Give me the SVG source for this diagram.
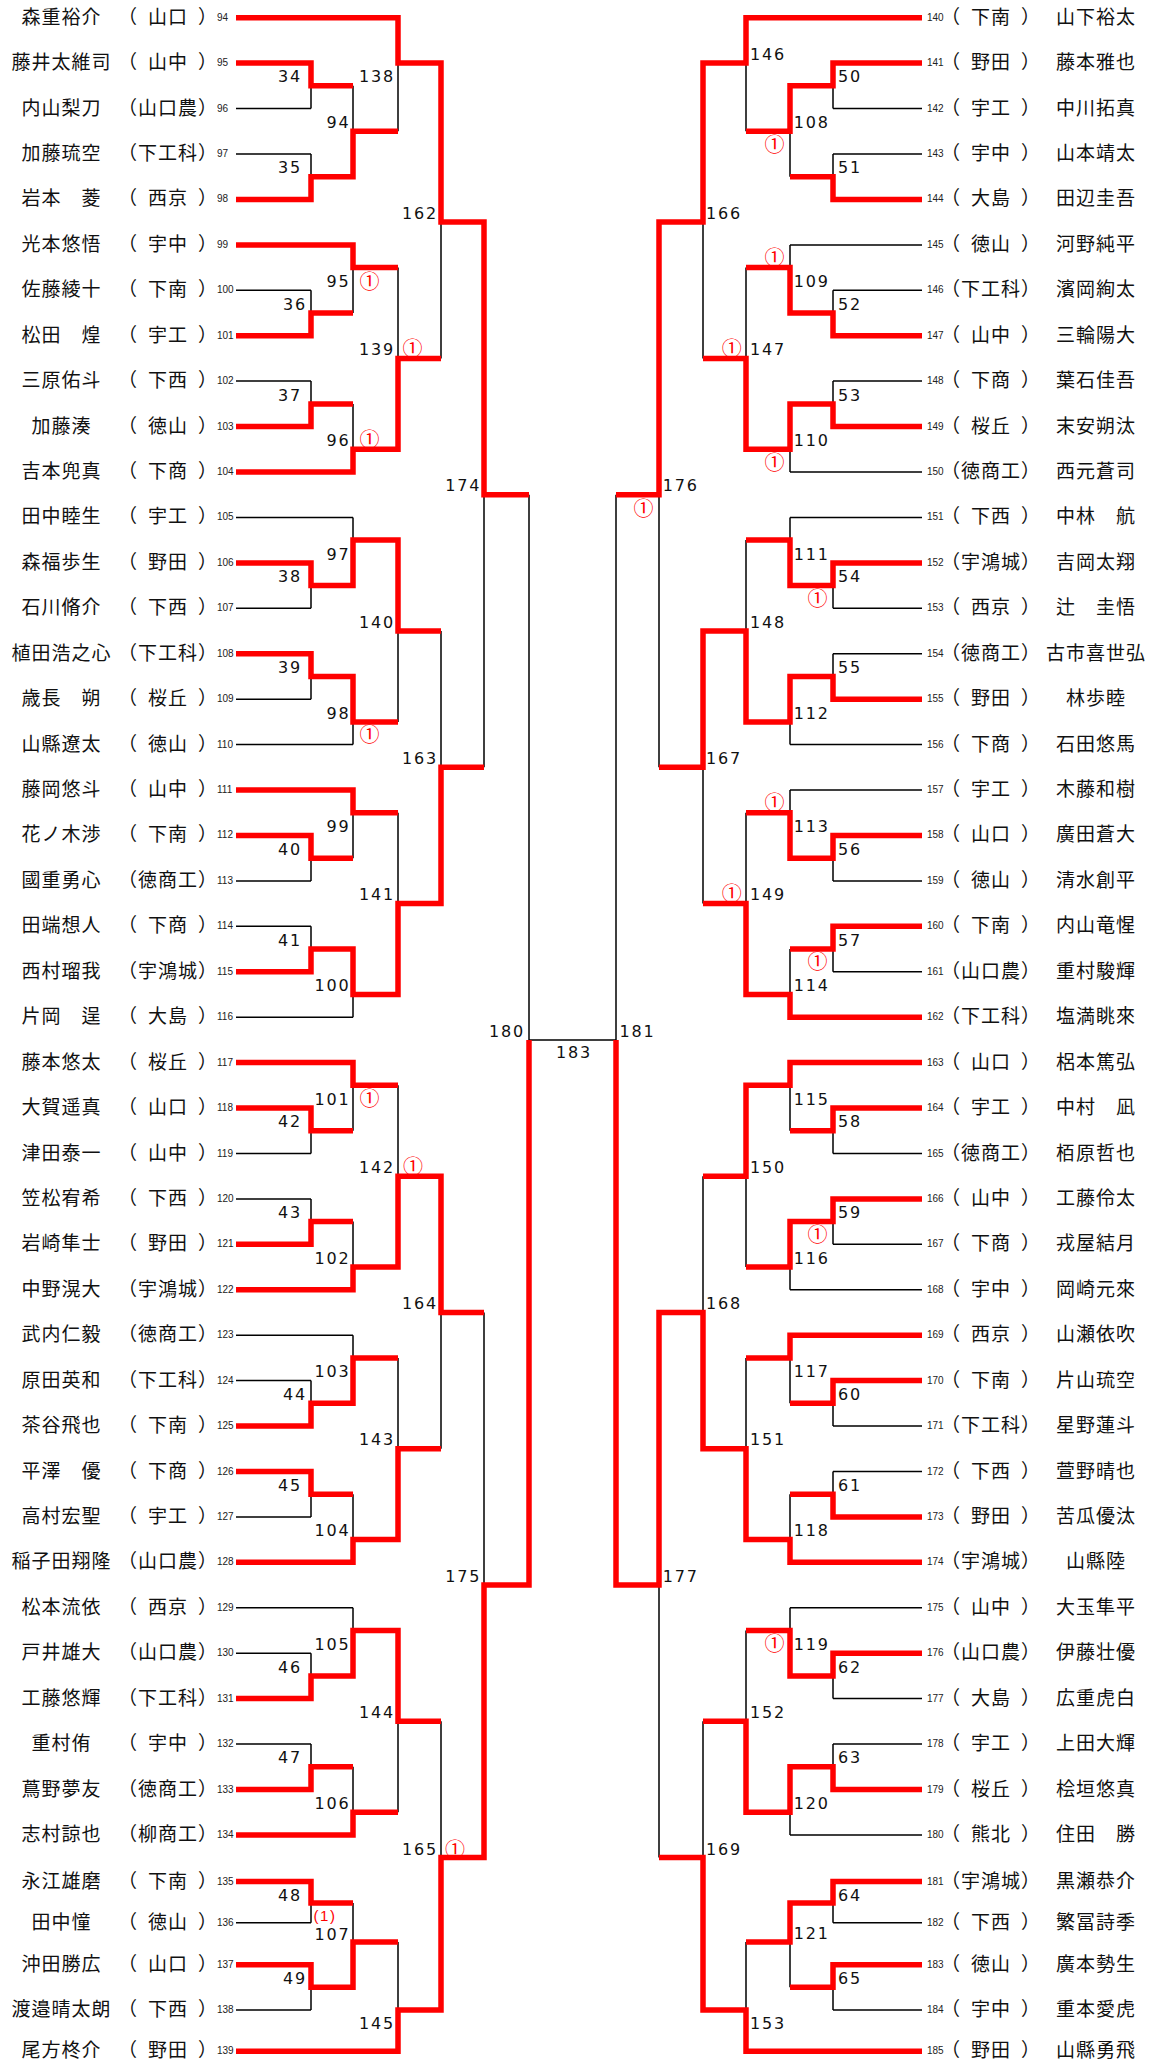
<svg xmlns="http://www.w3.org/2000/svg" width="1153" height="2063" viewBox="0 0 1153 2063">
<style>
.n{font-family:"Noto Sans CJK JP","Noto Sans CJK SC",sans-serif;font-size:19px;letter-spacing:1px;text-anchor:middle;fill:#111}
.q{font-family:"Noto Sans CJK JP","Noto Sans CJK SC",sans-serif;font-size:19px;fill:#111}
.d{font-family:"Liberation Sans",Arial,sans-serif;font-size:10px;fill:#222}
.ml{font-family:"DejaVu Sans",sans-serif;font-size:16px;letter-spacing:1.8px;text-anchor:end;fill:#111}
.mr{font-family:"DejaVu Sans",sans-serif;font-size:16px;letter-spacing:1.8px;fill:#111}
.mc{font-family:"DejaVu Sans",sans-serif;font-size:16px;letter-spacing:1.8px;text-anchor:middle;fill:#111}
.c{font-family:"Noto Sans CJK JP","Noto Sans CJK SC",sans-serif;font-size:20px;text-anchor:middle;fill:#f00}
.c2{font-family:"Liberation Sans",Arial,sans-serif;font-size:15px;letter-spacing:1.5px;text-anchor:middle;fill:#f00}
.b{fill:none;stroke:#000;stroke-width:1.5}
.r{fill:none;stroke:#f00;stroke-width:5.5;stroke-linejoin:miter}
</style>
<rect width="1153" height="2063" fill="#fff"/>
<g id="connectors">
<path class="b" d="M236 17.7H398M236 63.1H311M236 108.6H311M236 154H311M236 199.4H311M236 244.9H353M236 290.3H311M236 335.7H311M236 381.1H311M236 426.6H311M236 472H353M236 517.4H353M236 562.9H311M236 608.3H311M236 653.7H311M236 699.2H311M236 744.6H353M236 790H353M236 835.4H311M236 880.9H311M236 926.3H311M236 971.7H311M236 1017.2H353M236 1062.6H353M236 1108H311M236 1153.5H311M236 1198.9H311M236 1244.3H311M236 1289.7H353M236 1335.2H353M236 1380.6H311M236 1426H311M236 1471.5H311M236 1516.9H311M236 1562.3H353M236 1607.8H353M236 1653.2H311M236 1698.6H311M236 1744H311M236 1789.5H311M236 1834.9H353M236 1881.5H311M236 1922.8H311M236 1964.8H311M236 2010H311M236 2051.2H398"/>
<path class="b" d="M311 63.1V108.6M311 85.8H353M311 154V199.4M311 176.7H353M311 290.3V335.7M311 313H353M311 381.1V426.6M311 403.9H353M311 562.9V608.3M311 585.6H353M311 653.7V699.2M311 676.4H353M311 835.4V880.9M311 858.2H353M311 926.3V971.7M311 949H353M311 1108V1153.5M311 1130.7H353M311 1198.9V1244.3M311 1221.6H353M311 1380.6V1426M311 1403.3H353M311 1471.5V1516.9M311 1494.2H353M311 1653.2V1698.6M311 1675.9H353M311 1744V1789.5M311 1766.8H353M311 1881.5V1922.8M311 1903H353M311 1964.8V2010M311 1987.3H353"/>
<path class="b" d="M353 85.8V176.7M353 131.3H398M353 244.9V313M353 267.6H398M353 403.9V472M353 449.3H398M353 517.4V585.6M353 540.1H398M353 676.4V744.6M353 721.9H398M353 790V858.2M353 812.7H398M353 949V1017.2M353 994.4H398M353 1062.6V1130.7M353 1085.3H398M353 1221.6V1289.7M353 1267H398M353 1335.2V1403.3M353 1357.9H398M353 1494.2V1562.3M353 1539.6H398M353 1607.8V1675.9M353 1630.5H398M353 1766.8V1834.9M353 1812.2H398M353 1903V1987.3M353 1942H398"/>
<path class="b" d="M398 17.7V131.3M398 63.1H441M398 267.6V449.3M398 358.4H441M398 540.1V721.9M398 631H441M398 812.7V994.4M398 903.6H441M398 1085.3V1267M398 1176.2H441M398 1357.9V1539.6M398 1448.8H441M398 1630.5V1812.2M398 1721.3H441M398 1942V2051.2M398 2010H441"/>
<path class="b" d="M441 63.1V358.4M441 222.1H484M441 631V903.6M441 767.3H484M441 1176.2V1448.8M441 1312.5H484M441 1721.3V2010M441 1857.6H484M484 222.1V767.3M484 494.7H529M484 1312.5V1857.6M484 1585H529M529 494.7V1585M529 1039.9H616"/>
<path class="b" d="M922 17.7H746M922 63.1H833M922 108.6H833M922 154H833M922 199.4H833M922 244.9H790M922 290.3H833M922 335.7H833M922 381.1H833M922 426.6H833M922 472H790M922 517.4H790M922 562.9H833M922 608.3H833M922 653.7H833M922 699.2H833M922 744.6H790M922 790H790M922 835.4H833M922 880.9H833M922 926.3H833M922 971.7H833M922 1017.2H790M922 1062.6H790M922 1108H833M922 1153.5H833M922 1198.9H833M922 1244.3H833M922 1289.7H790M922 1335.2H790M922 1380.6H833M922 1426H833M922 1471.5H833M922 1516.9H833M922 1562.3H790M922 1607.8H790M922 1653.2H833M922 1698.6H833M922 1744H833M922 1789.5H833M922 1834.9H790M922 1881.5H833M922 1922.8H833M922 1964.8H833M922 2010H833M922 2051.2H746"/>
<path class="b" d="M833 63.1V108.6M833 85.8H790M833 154V199.4M833 176.7H790M833 290.3V335.7M833 313H790M833 381.1V426.6M833 403.9H790M833 562.9V608.3M833 585.6H790M833 653.7V699.2M833 676.4H790M833 835.4V880.9M833 858.2H790M833 926.3V971.7M833 949H790M833 1108V1153.5M833 1130.7H790M833 1198.9V1244.3M833 1221.6H790M833 1380.6V1426M833 1403.3H790M833 1471.5V1516.9M833 1494.2H790M833 1653.2V1698.6M833 1675.9H790M833 1744V1789.5M833 1766.8H790M833 1881.5V1922.8M833 1903H790M833 1964.8V2010M833 1987.3H790"/>
<path class="b" d="M790 85.8V176.7M790 131.3H746M790 244.9V313M790 267.6H746M790 403.9V472M790 449.3H746M790 517.4V585.6M790 540.1H746M790 676.4V744.6M790 721.9H746M790 790V858.2M790 812.7H746M790 949V1017.2M790 994.4H746M790 1062.6V1130.7M790 1085.3H746M790 1221.6V1289.7M790 1267H746M790 1335.2V1403.3M790 1357.9H746M790 1494.2V1562.3M790 1539.6H746M790 1607.8V1675.9M790 1630.5H746M790 1766.8V1834.9M790 1812.2H746M790 1903V1987.3M790 1942H746"/>
<path class="b" d="M746 17.7V131.3M746 63.1H703M746 267.6V449.3M746 358.4H703M746 540.1V721.9M746 631H703M746 812.7V994.4M746 903.6H703M746 1085.3V1267M746 1176.2H703M746 1357.9V1539.6M746 1448.8H703M746 1630.5V1812.2M746 1721.3H703M746 1942V2051.2M746 2010H703"/>
<path class="b" d="M703 63.1V358.4M703 222.1H659M703 631V903.6M703 767.3H659M703 1176.2V1448.8M703 1312.5H659M703 1721.3V2010M703 1857.6H659M659 222.1V767.3M659 494.7H616M659 1312.5V1857.6M659 1585H616M616 494.7V1585"/>
<path class="r" d="M236 17.7H398V63.1H441V222.1H484V494.7H529"/>
<path class="r" d="M236 63.1H311V85.8H353"/>
<path class="r" d="M236 199.4H311V176.7H353V131.3H398"/>
<path class="r" d="M236 244.9H353V267.6H398"/>
<path class="r" d="M236 335.7H311V313H353"/>
<path class="r" d="M236 426.6H311V403.9H353"/>
<path class="r" d="M236 472H353V449.3H398V358.4H441"/>
<path class="r" d="M236 562.9H311V585.6H353V540.1H398V631H441"/>
<path class="r" d="M236 653.7H311V676.4H353V721.9H398"/>
<path class="r" d="M236 790H353V812.7H398"/>
<path class="r" d="M236 835.4H311V858.2H353"/>
<path class="r" d="M236 971.7H311V949H353V994.4H398V903.6H441V767.3H484"/>
<path class="r" d="M236 1062.6H353V1085.3H398"/>
<path class="r" d="M236 1108H311V1130.7H353"/>
<path class="r" d="M236 1244.3H311V1221.6H353"/>
<path class="r" d="M236 1289.7H353V1267H398V1176.2H441V1312.5H484"/>
<path class="r" d="M236 1426H311V1403.3H353V1357.9H398"/>
<path class="r" d="M236 1471.5H311V1494.2H353"/>
<path class="r" d="M236 1562.3H353V1539.6H398V1448.8H441"/>
<path class="r" d="M236 1698.6H311V1675.9H353V1630.5H398V1721.3H441"/>
<path class="r" d="M236 1789.5H311V1766.8H353"/>
<path class="r" d="M236 1834.9H353V1812.2H398"/>
<path class="r" d="M236 1881.5H311V1903H353"/>
<path class="r" d="M236 1964.8H311V1987.3H353V1942H398"/>
<path class="r" d="M236 2051.2H398V2010H441V1857.6H484V1585H529V1039.9"/>
<path class="r" d="M922 17.7H746V63.1H703V222.1H659V494.7H616"/>
<path class="r" d="M922 63.1H833V85.8H790V131.3H746"/>
<path class="r" d="M922 199.4H833V176.7H790"/>
<path class="r" d="M922 335.7H833V313H790V267.6H746"/>
<path class="r" d="M922 426.6H833V403.9H790V449.3H746V358.4H703"/>
<path class="r" d="M922 562.9H833V585.6H790V540.1H746"/>
<path class="r" d="M922 699.2H833V676.4H790V721.9H746V631H703V767.3H659"/>
<path class="r" d="M922 835.4H833V858.2H790V812.7H746"/>
<path class="r" d="M922 926.3H833V949H790"/>
<path class="r" d="M922 1017.2H790V994.4H746V903.6H703"/>
<path class="r" d="M922 1062.6H790V1085.3H746V1176.2H703"/>
<path class="r" d="M922 1108H833V1130.7H790"/>
<path class="r" d="M922 1198.9H833V1221.6H790V1267H746"/>
<path class="r" d="M922 1335.2H790V1357.9H746"/>
<path class="r" d="M922 1380.6H833V1403.3H790"/>
<path class="r" d="M922 1516.9H833V1494.2H790"/>
<path class="r" d="M922 1562.3H790V1539.6H746V1448.8H703V1312.5H659V1585H616V1039.9"/>
<path class="r" d="M922 1653.2H833V1675.9H790V1630.5H746"/>
<path class="r" d="M922 1789.5H833V1766.8H790V1812.2H746V1721.3H703"/>
<path class="r" d="M922 1881.5H833V1903H790V1942H746"/>
<path class="r" d="M922 1964.8H833V1987.3H790"/>
<path class="r" d="M922 2051.2H746V2010H703V1857.6H659"/>
</g>
<g id="players-left">
<g id="p94" transform="translate(0 17.7)"><text class="n" x="61.5" y="6">森重裕介</text><text class="q" x="118" y="6">（</text><text class="n" x="168" y="6">山口</text><text class="q" x="198" y="6">）</text><text class="d" x="217" y="3">94</text></g>
<g id="p95" transform="translate(0 63.1)"><text class="n" x="61.5" y="6">藤井太維司</text><text class="q" x="118" y="6">（</text><text class="n" x="168" y="6">山中</text><text class="q" x="198" y="6">）</text><text class="d" x="217" y="3">95</text></g>
<g id="p96" transform="translate(0 108.6)"><text class="n" x="61.5" y="6">内山梨刀</text><text class="q" x="118" y="6">（</text><text class="n" x="168" y="6">山口農</text><text class="q" x="198" y="6">）</text><text class="d" x="217" y="3">96</text></g>
<g id="p97" transform="translate(0 154)"><text class="n" x="61.5" y="6">加藤琉空</text><text class="q" x="118" y="6">（</text><text class="n" x="168" y="6">下工科</text><text class="q" x="198" y="6">）</text><text class="d" x="217" y="3">97</text></g>
<g id="p98" transform="translate(0 199.4)"><text class="n" x="61.5" y="6">岩本　菱</text><text class="q" x="118" y="6">（</text><text class="n" x="168" y="6">西京</text><text class="q" x="198" y="6">）</text><text class="d" x="217" y="3">98</text></g>
<g id="p99" transform="translate(0 244.9)"><text class="n" x="61.5" y="6">光本悠悟</text><text class="q" x="118" y="6">（</text><text class="n" x="168" y="6">宇中</text><text class="q" x="198" y="6">）</text><text class="d" x="217" y="3">99</text></g>
<g id="p100" transform="translate(0 290.3)"><text class="n" x="61.5" y="6">佐藤綾十</text><text class="q" x="118" y="6">（</text><text class="n" x="168" y="6">下南</text><text class="q" x="198" y="6">）</text><text class="d" x="217" y="3">100</text></g>
<g id="p101" transform="translate(0 335.7)"><text class="n" x="61.5" y="6">松田　煌</text><text class="q" x="118" y="6">（</text><text class="n" x="168" y="6">宇工</text><text class="q" x="198" y="6">）</text><text class="d" x="217" y="3">101</text></g>
<g id="p102" transform="translate(0 381.1)"><text class="n" x="61.5" y="6">三原佑斗</text><text class="q" x="118" y="6">（</text><text class="n" x="168" y="6">下西</text><text class="q" x="198" y="6">）</text><text class="d" x="217" y="3">102</text></g>
<g id="p103" transform="translate(0 426.6)"><text class="n" x="61.5" y="6">加藤湊</text><text class="q" x="118" y="6">（</text><text class="n" x="168" y="6">徳山</text><text class="q" x="198" y="6">）</text><text class="d" x="217" y="3">103</text></g>
<g id="p104" transform="translate(0 472)"><text class="n" x="61.5" y="6">吉本兜真</text><text class="q" x="118" y="6">（</text><text class="n" x="168" y="6">下商</text><text class="q" x="198" y="6">）</text><text class="d" x="217" y="3">104</text></g>
<g id="p105" transform="translate(0 517.4)"><text class="n" x="61.5" y="6">田中睦生</text><text class="q" x="118" y="6">（</text><text class="n" x="168" y="6">宇工</text><text class="q" x="198" y="6">）</text><text class="d" x="217" y="3">105</text></g>
<g id="p106" transform="translate(0 562.9)"><text class="n" x="61.5" y="6">森福歩生</text><text class="q" x="118" y="6">（</text><text class="n" x="168" y="6">野田</text><text class="q" x="198" y="6">）</text><text class="d" x="217" y="3">106</text></g>
<g id="p107" transform="translate(0 608.3)"><text class="n" x="61.5" y="6">石川脩介</text><text class="q" x="118" y="6">（</text><text class="n" x="168" y="6">下西</text><text class="q" x="198" y="6">）</text><text class="d" x="217" y="3">107</text></g>
<g id="p108" transform="translate(0 653.7)"><text class="n" x="61.5" y="6">植田浩之心</text><text class="q" x="118" y="6">（</text><text class="n" x="168" y="6">下工科</text><text class="q" x="198" y="6">）</text><text class="d" x="217" y="3">108</text></g>
<g id="p109" transform="translate(0 699.2)"><text class="n" x="61.5" y="6">歳長　朔</text><text class="q" x="118" y="6">（</text><text class="n" x="168" y="6">桜丘</text><text class="q" x="198" y="6">）</text><text class="d" x="217" y="3">109</text></g>
<g id="p110" transform="translate(0 744.6)"><text class="n" x="61.5" y="6">山縣遼太</text><text class="q" x="118" y="6">（</text><text class="n" x="168" y="6">徳山</text><text class="q" x="198" y="6">）</text><text class="d" x="217" y="3">110</text></g>
<g id="p111" transform="translate(0 790)"><text class="n" x="61.5" y="6">藤岡悠斗</text><text class="q" x="118" y="6">（</text><text class="n" x="168" y="6">山中</text><text class="q" x="198" y="6">）</text><text class="d" x="217" y="3">111</text></g>
<g id="p112" transform="translate(0 835.4)"><text class="n" x="61.5" y="6">花ノ木渉</text><text class="q" x="118" y="6">（</text><text class="n" x="168" y="6">下南</text><text class="q" x="198" y="6">）</text><text class="d" x="217" y="3">112</text></g>
<g id="p113" transform="translate(0 880.9)"><text class="n" x="61.5" y="6">國重勇心</text><text class="q" x="118" y="6">（</text><text class="n" x="168" y="6">徳商工</text><text class="q" x="198" y="6">）</text><text class="d" x="217" y="3">113</text></g>
<g id="p114" transform="translate(0 926.3)"><text class="n" x="61.5" y="6">田端想人</text><text class="q" x="118" y="6">（</text><text class="n" x="168" y="6">下商</text><text class="q" x="198" y="6">）</text><text class="d" x="217" y="3">114</text></g>
<g id="p115" transform="translate(0 971.7)"><text class="n" x="61.5" y="6">西村瑠我</text><text class="q" x="118" y="6">（</text><text class="n" x="168" y="6">宇鴻城</text><text class="q" x="198" y="6">）</text><text class="d" x="217" y="3">115</text></g>
<g id="p116" transform="translate(0 1017.2)"><text class="n" x="61.5" y="6">片岡　逞</text><text class="q" x="118" y="6">（</text><text class="n" x="168" y="6">大島</text><text class="q" x="198" y="6">）</text><text class="d" x="217" y="3">116</text></g>
<g id="p117" transform="translate(0 1062.6)"><text class="n" x="61.5" y="6">藤本悠太</text><text class="q" x="118" y="6">（</text><text class="n" x="168" y="6">桜丘</text><text class="q" x="198" y="6">）</text><text class="d" x="217" y="3">117</text></g>
<g id="p118" transform="translate(0 1108)"><text class="n" x="61.5" y="6">大賀遥真</text><text class="q" x="118" y="6">（</text><text class="n" x="168" y="6">山口</text><text class="q" x="198" y="6">）</text><text class="d" x="217" y="3">118</text></g>
<g id="p119" transform="translate(0 1153.5)"><text class="n" x="61.5" y="6">津田泰一</text><text class="q" x="118" y="6">（</text><text class="n" x="168" y="6">山中</text><text class="q" x="198" y="6">）</text><text class="d" x="217" y="3">119</text></g>
<g id="p120" transform="translate(0 1198.9)"><text class="n" x="61.5" y="6">笠松宥希</text><text class="q" x="118" y="6">（</text><text class="n" x="168" y="6">下西</text><text class="q" x="198" y="6">）</text><text class="d" x="217" y="3">120</text></g>
<g id="p121" transform="translate(0 1244.3)"><text class="n" x="61.5" y="6">岩崎隼士</text><text class="q" x="118" y="6">（</text><text class="n" x="168" y="6">野田</text><text class="q" x="198" y="6">）</text><text class="d" x="217" y="3">121</text></g>
<g id="p122" transform="translate(0 1289.7)"><text class="n" x="61.5" y="6">中野滉大</text><text class="q" x="118" y="6">（</text><text class="n" x="168" y="6">宇鴻城</text><text class="q" x="198" y="6">）</text><text class="d" x="217" y="3">122</text></g>
<g id="p123" transform="translate(0 1335.2)"><text class="n" x="61.5" y="6">武内仁毅</text><text class="q" x="118" y="6">（</text><text class="n" x="168" y="6">徳商工</text><text class="q" x="198" y="6">）</text><text class="d" x="217" y="3">123</text></g>
<g id="p124" transform="translate(0 1380.6)"><text class="n" x="61.5" y="6">原田英和</text><text class="q" x="118" y="6">（</text><text class="n" x="168" y="6">下工科</text><text class="q" x="198" y="6">）</text><text class="d" x="217" y="3">124</text></g>
<g id="p125" transform="translate(0 1426)"><text class="n" x="61.5" y="6">茶谷飛也</text><text class="q" x="118" y="6">（</text><text class="n" x="168" y="6">下南</text><text class="q" x="198" y="6">）</text><text class="d" x="217" y="3">125</text></g>
<g id="p126" transform="translate(0 1471.5)"><text class="n" x="61.5" y="6">平澤　優</text><text class="q" x="118" y="6">（</text><text class="n" x="168" y="6">下商</text><text class="q" x="198" y="6">）</text><text class="d" x="217" y="3">126</text></g>
<g id="p127" transform="translate(0 1516.9)"><text class="n" x="61.5" y="6">高村宏聖</text><text class="q" x="118" y="6">（</text><text class="n" x="168" y="6">宇工</text><text class="q" x="198" y="6">）</text><text class="d" x="217" y="3">127</text></g>
<g id="p128" transform="translate(0 1562.3)"><text class="n" x="61.5" y="6">稲子田翔隆</text><text class="q" x="118" y="6">（</text><text class="n" x="168" y="6">山口農</text><text class="q" x="198" y="6">）</text><text class="d" x="217" y="3">128</text></g>
<g id="p129" transform="translate(0 1607.8)"><text class="n" x="61.5" y="6">松本流依</text><text class="q" x="118" y="6">（</text><text class="n" x="168" y="6">西京</text><text class="q" x="198" y="6">）</text><text class="d" x="217" y="3">129</text></g>
<g id="p130" transform="translate(0 1653.2)"><text class="n" x="61.5" y="6">戸井雄大</text><text class="q" x="118" y="6">（</text><text class="n" x="168" y="6">山口農</text><text class="q" x="198" y="6">）</text><text class="d" x="217" y="3">130</text></g>
<g id="p131" transform="translate(0 1698.6)"><text class="n" x="61.5" y="6">工藤悠輝</text><text class="q" x="118" y="6">（</text><text class="n" x="168" y="6">下工科</text><text class="q" x="198" y="6">）</text><text class="d" x="217" y="3">131</text></g>
<g id="p132" transform="translate(0 1744)"><text class="n" x="61.5" y="6">重村侑</text><text class="q" x="118" y="6">（</text><text class="n" x="168" y="6">宇中</text><text class="q" x="198" y="6">）</text><text class="d" x="217" y="3">132</text></g>
<g id="p133" transform="translate(0 1789.5)"><text class="n" x="61.5" y="6">蔦野夢友</text><text class="q" x="118" y="6">（</text><text class="n" x="168" y="6">徳商工</text><text class="q" x="198" y="6">）</text><text class="d" x="217" y="3">133</text></g>
<g id="p134" transform="translate(0 1834.9)"><text class="n" x="61.5" y="6">志村諒也</text><text class="q" x="118" y="6">（</text><text class="n" x="168" y="6">柳商工</text><text class="q" x="198" y="6">）</text><text class="d" x="217" y="3">134</text></g>
<g id="p135" transform="translate(0 1881.5)"><text class="n" x="61.5" y="6">永江雄磨</text><text class="q" x="118" y="6">（</text><text class="n" x="168" y="6">下南</text><text class="q" x="198" y="6">）</text><text class="d" x="217" y="3">135</text></g>
<g id="p136" transform="translate(0 1922.8)"><text class="n" x="61.5" y="6">田中憧</text><text class="q" x="118" y="6">（</text><text class="n" x="168" y="6">徳山</text><text class="q" x="198" y="6">）</text><text class="d" x="217" y="3">136</text></g>
<g id="p137" transform="translate(0 1964.8)"><text class="n" x="61.5" y="6">沖田勝広</text><text class="q" x="118" y="6">（</text><text class="n" x="168" y="6">山口</text><text class="q" x="198" y="6">）</text><text class="d" x="217" y="3">137</text></g>
<g id="p138" transform="translate(0 2010)"><text class="n" x="61.5" y="6">渡邉晴太朗</text><text class="q" x="118" y="6">（</text><text class="n" x="168" y="6">下西</text><text class="q" x="198" y="6">）</text><text class="d" x="217" y="3">138</text></g>
<g id="p139" transform="translate(0 2051.2)"><text class="n" x="61.5" y="6">尾方柊介</text><text class="q" x="118" y="6">（</text><text class="n" x="168" y="6">野田</text><text class="q" x="198" y="6">）</text><text class="d" x="217" y="3">139</text></g>
</g>
<g id="players-right">
<g id="p140" transform="translate(0 17.7)"><text class="d" x="927" y="3">140</text><text class="q" x="941" y="6">（</text><text class="n" x="991" y="6">下南</text><text class="q" x="1021" y="6">）</text><text class="n" x="1096" y="6">山下裕太</text></g>
<g id="p141" transform="translate(0 63.1)"><text class="d" x="927" y="3">141</text><text class="q" x="941" y="6">（</text><text class="n" x="991" y="6">野田</text><text class="q" x="1021" y="6">）</text><text class="n" x="1096" y="6">藤本雅也</text></g>
<g id="p142" transform="translate(0 108.6)"><text class="d" x="927" y="3">142</text><text class="q" x="941" y="6">（</text><text class="n" x="991" y="6">宇工</text><text class="q" x="1021" y="6">）</text><text class="n" x="1096" y="6">中川拓真</text></g>
<g id="p143" transform="translate(0 154)"><text class="d" x="927" y="3">143</text><text class="q" x="941" y="6">（</text><text class="n" x="991" y="6">宇中</text><text class="q" x="1021" y="6">）</text><text class="n" x="1096" y="6">山本靖太</text></g>
<g id="p144" transform="translate(0 199.4)"><text class="d" x="927" y="3">144</text><text class="q" x="941" y="6">（</text><text class="n" x="991" y="6">大島</text><text class="q" x="1021" y="6">）</text><text class="n" x="1096" y="6">田辺圭吾</text></g>
<g id="p145" transform="translate(0 244.9)"><text class="d" x="927" y="3">145</text><text class="q" x="941" y="6">（</text><text class="n" x="991" y="6">徳山</text><text class="q" x="1021" y="6">）</text><text class="n" x="1096" y="6">河野純平</text></g>
<g id="p146" transform="translate(0 290.3)"><text class="d" x="927" y="3">146</text><text class="q" x="941" y="6">（</text><text class="n" x="991" y="6">下工科</text><text class="q" x="1021" y="6">）</text><text class="n" x="1096" y="6">濱岡絢太</text></g>
<g id="p147" transform="translate(0 335.7)"><text class="d" x="927" y="3">147</text><text class="q" x="941" y="6">（</text><text class="n" x="991" y="6">山中</text><text class="q" x="1021" y="6">）</text><text class="n" x="1096" y="6">三輪陽大</text></g>
<g id="p148" transform="translate(0 381.1)"><text class="d" x="927" y="3">148</text><text class="q" x="941" y="6">（</text><text class="n" x="991" y="6">下商</text><text class="q" x="1021" y="6">）</text><text class="n" x="1096" y="6">葉石佳吾</text></g>
<g id="p149" transform="translate(0 426.6)"><text class="d" x="927" y="3">149</text><text class="q" x="941" y="6">（</text><text class="n" x="991" y="6">桜丘</text><text class="q" x="1021" y="6">）</text><text class="n" x="1096" y="6">末安朔汰</text></g>
<g id="p150" transform="translate(0 472)"><text class="d" x="927" y="3">150</text><text class="q" x="941" y="6">（</text><text class="n" x="991" y="6">徳商工</text><text class="q" x="1021" y="6">）</text><text class="n" x="1096" y="6">西元蒼司</text></g>
<g id="p151" transform="translate(0 517.4)"><text class="d" x="927" y="3">151</text><text class="q" x="941" y="6">（</text><text class="n" x="991" y="6">下西</text><text class="q" x="1021" y="6">）</text><text class="n" x="1096" y="6">中林　航</text></g>
<g id="p152" transform="translate(0 562.9)"><text class="d" x="927" y="3">152</text><text class="q" x="941" y="6">（</text><text class="n" x="991" y="6">宇鴻城</text><text class="q" x="1021" y="6">）</text><text class="n" x="1096" y="6">吉岡太翔</text></g>
<g id="p153" transform="translate(0 608.3)"><text class="d" x="927" y="3">153</text><text class="q" x="941" y="6">（</text><text class="n" x="991" y="6">西京</text><text class="q" x="1021" y="6">）</text><text class="n" x="1096" y="6">辻　圭悟</text></g>
<g id="p154" transform="translate(0 653.7)"><text class="d" x="927" y="3">154</text><text class="q" x="941" y="6">（</text><text class="n" x="991" y="6">徳商工</text><text class="q" x="1021" y="6">）</text><text class="n" x="1096" y="6">古市喜世弘</text></g>
<g id="p155" transform="translate(0 699.2)"><text class="d" x="927" y="3">155</text><text class="q" x="941" y="6">（</text><text class="n" x="991" y="6">野田</text><text class="q" x="1021" y="6">）</text><text class="n" x="1096" y="6">林歩睦</text></g>
<g id="p156" transform="translate(0 744.6)"><text class="d" x="927" y="3">156</text><text class="q" x="941" y="6">（</text><text class="n" x="991" y="6">下商</text><text class="q" x="1021" y="6">）</text><text class="n" x="1096" y="6">石田悠馬</text></g>
<g id="p157" transform="translate(0 790)"><text class="d" x="927" y="3">157</text><text class="q" x="941" y="6">（</text><text class="n" x="991" y="6">宇工</text><text class="q" x="1021" y="6">）</text><text class="n" x="1096" y="6">木藤和樹</text></g>
<g id="p158" transform="translate(0 835.4)"><text class="d" x="927" y="3">158</text><text class="q" x="941" y="6">（</text><text class="n" x="991" y="6">山口</text><text class="q" x="1021" y="6">）</text><text class="n" x="1096" y="6">廣田蒼大</text></g>
<g id="p159" transform="translate(0 880.9)"><text class="d" x="927" y="3">159</text><text class="q" x="941" y="6">（</text><text class="n" x="991" y="6">徳山</text><text class="q" x="1021" y="6">）</text><text class="n" x="1096" y="6">清水創平</text></g>
<g id="p160" transform="translate(0 926.3)"><text class="d" x="927" y="3">160</text><text class="q" x="941" y="6">（</text><text class="n" x="991" y="6">下南</text><text class="q" x="1021" y="6">）</text><text class="n" x="1096" y="6">内山竜惺</text></g>
<g id="p161" transform="translate(0 971.7)"><text class="d" x="927" y="3">161</text><text class="q" x="941" y="6">（</text><text class="n" x="991" y="6">山口農</text><text class="q" x="1021" y="6">）</text><text class="n" x="1096" y="6">重村駿輝</text></g>
<g id="p162" transform="translate(0 1017.2)"><text class="d" x="927" y="3">162</text><text class="q" x="941" y="6">（</text><text class="n" x="991" y="6">下工科</text><text class="q" x="1021" y="6">）</text><text class="n" x="1096" y="6">塩満眺來</text></g>
<g id="p163" transform="translate(0 1062.6)"><text class="d" x="927" y="3">163</text><text class="q" x="941" y="6">（</text><text class="n" x="991" y="6">山口</text><text class="q" x="1021" y="6">）</text><text class="n" x="1096" y="6">梠本篤弘</text></g>
<g id="p164" transform="translate(0 1108)"><text class="d" x="927" y="3">164</text><text class="q" x="941" y="6">（</text><text class="n" x="991" y="6">宇工</text><text class="q" x="1021" y="6">）</text><text class="n" x="1096" y="6">中村　凪</text></g>
<g id="p165" transform="translate(0 1153.5)"><text class="d" x="927" y="3">165</text><text class="q" x="941" y="6">（</text><text class="n" x="991" y="6">徳商工</text><text class="q" x="1021" y="6">）</text><text class="n" x="1096" y="6">栢原哲也</text></g>
<g id="p166" transform="translate(0 1198.9)"><text class="d" x="927" y="3">166</text><text class="q" x="941" y="6">（</text><text class="n" x="991" y="6">山中</text><text class="q" x="1021" y="6">）</text><text class="n" x="1096" y="6">工藤伶太</text></g>
<g id="p167" transform="translate(0 1244.3)"><text class="d" x="927" y="3">167</text><text class="q" x="941" y="6">（</text><text class="n" x="991" y="6">下商</text><text class="q" x="1021" y="6">）</text><text class="n" x="1096" y="6">戎屋結月</text></g>
<g id="p168" transform="translate(0 1289.7)"><text class="d" x="927" y="3">168</text><text class="q" x="941" y="6">（</text><text class="n" x="991" y="6">宇中</text><text class="q" x="1021" y="6">）</text><text class="n" x="1096" y="6">岡崎元來</text></g>
<g id="p169" transform="translate(0 1335.2)"><text class="d" x="927" y="3">169</text><text class="q" x="941" y="6">（</text><text class="n" x="991" y="6">西京</text><text class="q" x="1021" y="6">）</text><text class="n" x="1096" y="6">山瀬依吹</text></g>
<g id="p170" transform="translate(0 1380.6)"><text class="d" x="927" y="3">170</text><text class="q" x="941" y="6">（</text><text class="n" x="991" y="6">下南</text><text class="q" x="1021" y="6">）</text><text class="n" x="1096" y="6">片山琉空</text></g>
<g id="p171" transform="translate(0 1426)"><text class="d" x="927" y="3">171</text><text class="q" x="941" y="6">（</text><text class="n" x="991" y="6">下工科</text><text class="q" x="1021" y="6">）</text><text class="n" x="1096" y="6">星野蓮斗</text></g>
<g id="p172" transform="translate(0 1471.5)"><text class="d" x="927" y="3">172</text><text class="q" x="941" y="6">（</text><text class="n" x="991" y="6">下西</text><text class="q" x="1021" y="6">）</text><text class="n" x="1096" y="6">萱野晴也</text></g>
<g id="p173" transform="translate(0 1516.9)"><text class="d" x="927" y="3">173</text><text class="q" x="941" y="6">（</text><text class="n" x="991" y="6">野田</text><text class="q" x="1021" y="6">）</text><text class="n" x="1096" y="6">苦瓜優汰</text></g>
<g id="p174" transform="translate(0 1562.3)"><text class="d" x="927" y="3">174</text><text class="q" x="941" y="6">（</text><text class="n" x="991" y="6">宇鴻城</text><text class="q" x="1021" y="6">）</text><text class="n" x="1096" y="6">山縣陸</text></g>
<g id="p175" transform="translate(0 1607.8)"><text class="d" x="927" y="3">175</text><text class="q" x="941" y="6">（</text><text class="n" x="991" y="6">山中</text><text class="q" x="1021" y="6">）</text><text class="n" x="1096" y="6">大玉隼平</text></g>
<g id="p176" transform="translate(0 1653.2)"><text class="d" x="927" y="3">176</text><text class="q" x="941" y="6">（</text><text class="n" x="991" y="6">山口農</text><text class="q" x="1021" y="6">）</text><text class="n" x="1096" y="6">伊藤壮優</text></g>
<g id="p177" transform="translate(0 1698.6)"><text class="d" x="927" y="3">177</text><text class="q" x="941" y="6">（</text><text class="n" x="991" y="6">大島</text><text class="q" x="1021" y="6">）</text><text class="n" x="1096" y="6">広重虎白</text></g>
<g id="p178" transform="translate(0 1744)"><text class="d" x="927" y="3">178</text><text class="q" x="941" y="6">（</text><text class="n" x="991" y="6">宇工</text><text class="q" x="1021" y="6">）</text><text class="n" x="1096" y="6">上田大輝</text></g>
<g id="p179" transform="translate(0 1789.5)"><text class="d" x="927" y="3">179</text><text class="q" x="941" y="6">（</text><text class="n" x="991" y="6">桜丘</text><text class="q" x="1021" y="6">）</text><text class="n" x="1096" y="6">桧垣悠真</text></g>
<g id="p180" transform="translate(0 1834.9)"><text class="d" x="927" y="3">180</text><text class="q" x="941" y="6">（</text><text class="n" x="991" y="6">熊北</text><text class="q" x="1021" y="6">）</text><text class="n" x="1096" y="6">住田　勝</text></g>
<g id="p181" transform="translate(0 1881.5)"><text class="d" x="927" y="3">181</text><text class="q" x="941" y="6">（</text><text class="n" x="991" y="6">宇鴻城</text><text class="q" x="1021" y="6">）</text><text class="n" x="1096" y="6">黒瀬恭介</text></g>
<g id="p182" transform="translate(0 1922.8)"><text class="d" x="927" y="3">182</text><text class="q" x="941" y="6">（</text><text class="n" x="991" y="6">下西</text><text class="q" x="1021" y="6">）</text><text class="n" x="1096" y="6">繁冨詩季</text></g>
<g id="p183" transform="translate(0 1964.8)"><text class="d" x="927" y="3">183</text><text class="q" x="941" y="6">（</text><text class="n" x="991" y="6">徳山</text><text class="q" x="1021" y="6">）</text><text class="n" x="1096" y="6">廣本勢生</text></g>
<g id="p184" transform="translate(0 2010)"><text class="d" x="927" y="3">184</text><text class="q" x="941" y="6">（</text><text class="n" x="991" y="6">宇中</text><text class="q" x="1021" y="6">）</text><text class="n" x="1096" y="6">重本愛虎</text></g>
<g id="p185" transform="translate(0 2051.2)"><text class="d" x="927" y="3">185</text><text class="q" x="941" y="6">（</text><text class="n" x="991" y="6">野田</text><text class="q" x="1021" y="6">）</text><text class="n" x="1096" y="6">山縣勇飛</text></g>
</g>
<g id="matches-left">
<g id="m34"><text class="ml" x="302" y="82.4">34</text></g>
<g id="m35"><text class="ml" x="302" y="173.3">35</text></g>
<g id="m36"><text class="ml" x="307" y="309.6">36</text></g>
<g id="m37"><text class="ml" x="302" y="400.5">37</text></g>
<g id="m38"><text class="ml" x="302" y="582.2">38</text></g>
<g id="m39"><text class="ml" x="302" y="673">39</text></g>
<g id="m40"><text class="ml" x="302" y="854.8">40</text></g>
<g id="m41"><text class="ml" x="302" y="945.6">41</text></g>
<g id="m42"><text class="ml" x="302" y="1127.3">42</text></g>
<g id="m43"><text class="ml" x="302" y="1218.2">43</text></g>
<g id="m44"><text class="ml" x="307" y="1399.9">44</text></g>
<g id="m45"><text class="ml" x="302" y="1490.8">45</text></g>
<g id="m46"><text class="ml" x="302" y="1672.5">46</text></g>
<g id="m47"><text class="ml" x="302" y="1763.4">47</text></g>
<g id="m48"><text class="ml" x="302" y="1901">48</text><text class="c2" x="325" y="1920.5">(1)</text></g>
<g id="m49"><text class="ml" x="307" y="1983.8">49</text></g>
<g id="m94"><text class="ml" x="350.5" y="127.9">94</text></g>
<g id="m95"><text class="ml" x="350.5" y="286.9">95</text><text class="c" x="369.5" y="289">①</text></g>
<g id="m96"><text class="ml" x="350.5" y="445.9">96</text><text class="c" x="369.5" y="447">①</text></g>
<g id="m97"><text class="ml" x="350.5" y="559.5">97</text></g>
<g id="m98"><text class="ml" x="350.5" y="718.5">98</text><text class="c" x="369.5" y="742">①</text></g>
<g id="m99"><text class="ml" x="350.5" y="832">99</text></g>
<g id="m100"><text class="ml" x="350.5" y="991">100</text></g>
<g id="m101"><text class="ml" x="350.5" y="1104.6">101</text><text class="c" x="369.5" y="1105.5">①</text></g>
<g id="m102"><text class="ml" x="350.5" y="1263.6">102</text></g>
<g id="m103"><text class="ml" x="350.5" y="1377.2">103</text></g>
<g id="m104"><text class="ml" x="350.5" y="1536.2">104</text></g>
<g id="m105"><text class="ml" x="350.5" y="1649.8">105</text></g>
<g id="m106"><text class="ml" x="350.5" y="1808.8">106</text></g>
<g id="m107"><text class="ml" x="350.5" y="1940.4">107</text></g>
<g id="m138"><text class="ml" x="395" y="82.4">138</text></g>
<g id="m139"><text class="ml" x="395" y="355">139</text><text class="c" x="412.5" y="355.5">①</text></g>
<g id="m140"><text class="ml" x="395" y="627.6">140</text></g>
<g id="m141"><text class="ml" x="395" y="900.2">141</text></g>
<g id="m142"><text class="ml" x="395" y="1172.8">142</text><text class="c" x="413" y="1174">①</text></g>
<g id="m143"><text class="ml" x="395" y="1445.4">143</text></g>
<g id="m144"><text class="ml" x="395" y="1717.9">144</text></g>
<g id="m145"><text class="ml" x="395" y="2028.8">145</text></g>
<g id="m162"><text class="ml" x="438" y="218.7">162</text></g>
<g id="m163"><text class="ml" x="438" y="763.9">163</text></g>
<g id="m164"><text class="ml" x="438" y="1309.1">164</text></g>
<g id="m165"><text class="ml" x="438" y="1855.4">165</text><text class="c" x="455" y="1856.5">①</text></g>
<g id="m174"><text class="ml" x="481.3" y="491.3">174</text></g>
<g id="m175"><text class="ml" x="481.3" y="1581.6">175</text></g>
<g id="m180"><text class="ml" x="525" y="1036.5">180</text></g>
<g id="m183"><text class="mc" x="574" y="1058.3">183</text></g>
</g>
<g id="matches-right">
<g id="m50"><text class="mr" x="838" y="82.4">50</text></g>
<g id="m51"><text class="mr" x="838" y="173.3">51</text></g>
<g id="m52"><text class="mr" x="838" y="309.6">52</text></g>
<g id="m53"><text class="mr" x="838" y="400.5">53</text></g>
<g id="m54"><text class="mr" x="838" y="582.2">54</text><text class="c" x="817.5" y="606">①</text></g>
<g id="m55"><text class="mr" x="838" y="673">55</text></g>
<g id="m56"><text class="mr" x="838" y="854.8">56</text></g>
<g id="m57"><text class="mr" x="838" y="945.6">57</text><text class="c" x="817.5" y="969">①</text></g>
<g id="m58"><text class="mr" x="838" y="1127.3">58</text></g>
<g id="m59"><text class="mr" x="838" y="1218.2">59</text><text class="c" x="817.5" y="1242">①</text></g>
<g id="m60"><text class="mr" x="838" y="1399.9">60</text></g>
<g id="m61"><text class="mr" x="838" y="1490.8">61</text></g>
<g id="m62"><text class="mr" x="838" y="1672.5">62</text></g>
<g id="m63"><text class="mr" x="838" y="1763.4">63</text></g>
<g id="m64"><text class="mr" x="838" y="1900.8">64</text></g>
<g id="m65"><text class="mr" x="838" y="1983.9">65</text></g>
<g id="m108"><text class="mr" x="793.8" y="127.9">108</text><text class="c" x="774.5" y="151.5">①</text></g>
<g id="m109"><text class="mr" x="793.8" y="286.9">109</text><text class="c" x="774.5" y="264.5">①</text></g>
<g id="m110"><text class="mr" x="793.8" y="445.9">110</text><text class="c" x="774.5" y="469.5">①</text></g>
<g id="m111"><text class="mr" x="793.8" y="559.5">111</text></g>
<g id="m112"><text class="mr" x="793.8" y="718.5">112</text></g>
<g id="m113"><text class="mr" x="793.8" y="832">113</text><text class="c" x="774.5" y="810">①</text></g>
<g id="m114"><text class="mr" x="793.8" y="991">114</text></g>
<g id="m115"><text class="mr" x="793.8" y="1104.6">115</text></g>
<g id="m116"><text class="mr" x="793.8" y="1263.6">116</text></g>
<g id="m117"><text class="mr" x="793.8" y="1377.2">117</text></g>
<g id="m118"><text class="mr" x="793.8" y="1536.2">118</text></g>
<g id="m119"><text class="mr" x="793.8" y="1649.8">119</text><text class="c" x="774.5" y="1650.5">①</text></g>
<g id="m120"><text class="mr" x="793.8" y="1808.8">120</text></g>
<g id="m121"><text class="mr" x="793.8" y="1939.4">121</text></g>
<g id="m146"><text class="mr" x="750" y="59.7">146</text></g>
<g id="m147"><text class="mr" x="750" y="355">147</text><text class="c" x="731.7" y="355.5">①</text></g>
<g id="m148"><text class="mr" x="750" y="627.6">148</text></g>
<g id="m149"><text class="mr" x="750" y="900.2">149</text><text class="c" x="731.7" y="900.5">①</text></g>
<g id="m150"><text class="mr" x="750" y="1172.8">150</text></g>
<g id="m151"><text class="mr" x="750" y="1445.4">151</text></g>
<g id="m152"><text class="mr" x="750" y="1717.9">152</text></g>
<g id="m153"><text class="mr" x="750" y="2029">153</text></g>
<g id="m166"><text class="mr" x="706" y="218.7">166</text></g>
<g id="m167"><text class="mr" x="706" y="763.9">167</text></g>
<g id="m168"><text class="mr" x="706" y="1309.1">168</text></g>
<g id="m169"><text class="mr" x="706" y="1855">169</text></g>
<g id="m176"><text class="mr" x="662.8" y="491.3">176</text><text class="c" x="643.5" y="515.5">①</text></g>
<g id="m177"><text class="mr" x="662.8" y="1581.6">177</text></g>
<g id="m181"><text class="mr" x="619.5" y="1036.5">181</text></g>
</g>
</svg>
